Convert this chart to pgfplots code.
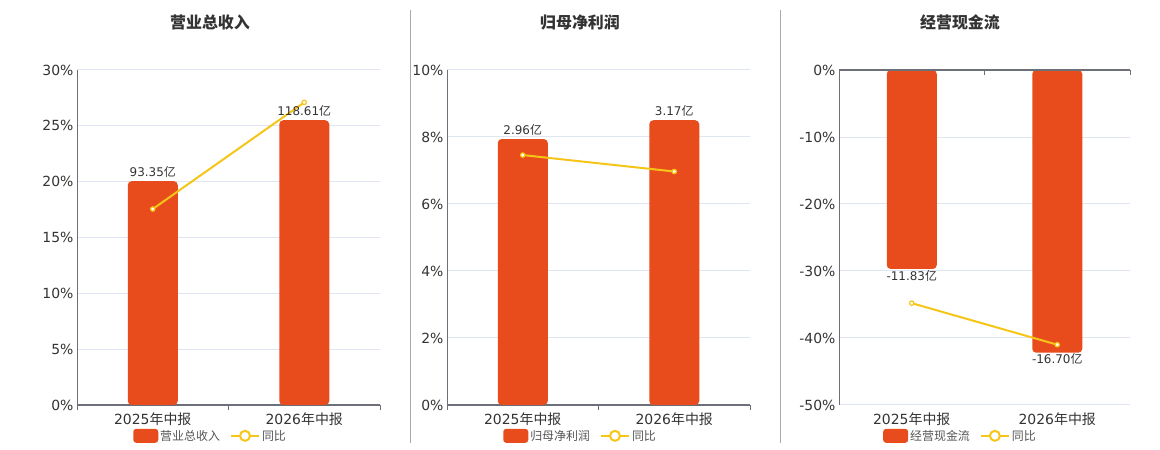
\documentclass[border=0pt]{standalone}
\usepackage{fontspec}
\setmainfont{DejaVu Sans}
\newfontfamily\cjk{Noto Sans CJK SC}
\usepackage{pgfplots}
\pgfplotsset{compat=1.18}
\definecolor{barc}{HTML}{E84C1D}
\definecolor{linec}{HTML}{F5C518}
\definecolor{gridc}{HTML}{E0E6F1}
\definecolor{axisc}{HTML}{6E7079}
\definecolor{txtc}{HTML}{333333}
\definecolor{legc}{HTML}{555555}
\definecolor{sepc}{HTML}{AAAAAA}
\pgfplotsset{
  panel/.style={
    scale only axis, width=303bp, height=335bp, anchor=south west,
    xmin=-0.5, xmax=1.5,
    xtick={0,1},
    xticklabels={2025{\cjk 年中报},2026{\cjk 年中报}},
    ticklabel style={font=\fontsize{14}{16}\selectfont, text=txtc},
    xticklabel style={yshift=-4bp},
    ymajorgrids, grid style={gridc, line width=1bp},
    ytick style={draw=none},
    major x tick style={draw=none},
    clip=false,
    legend style={draw=none, fill=none, inner sep=0pt, anchor=west,
      font=\fontsize{12}{14}\selectfont, text=legc,
      /tikz/every even column/.append style={column sep=8bp}},
    legend columns=2,
    legend cell align=left,
  },
  barlegend/.style={legend image code/.code={\fill[barc, rounded corners=3bp] (0bp,-7bp) rectangle (25bp,7bp);}},
  linelegend/.style={legend image code/.code={\draw[linec, line width=2bp] (0bp,0bp)--(28bp,0bp); \draw[linec, line width=2bp, fill=white] (14bp,0bp) circle (5bp);}},
  barplot/.style={ybar, bar width=50bp, fill=barc, draw=none, rounded corners=4bp, barlegend,
    point meta=explicit symbolic,
    nodes near coords={\pgfplotspointmeta{\cjk 亿}},
    nodes near coords style={font=\fontsize{12}{14}\selectfont, text=txtc}},
  lineplot/.style={linec, line width=2bp, mark=*, mark size=2.2bp,
    mark options={fill=white, draw=linec, line width=1.2bp}, linelegend},
  bottomaxis/.style={
    axis x line*=bottom, axis y line*=left,
    x axis line style={axisc, line width=1.8bp, -},
    y axis line style={axisc, line width=1bp, -},
    extra x ticks={-0.5,0.5,1.5}, extra x tick labels={},
    extra x tick style={grid=none, major tick length=5bp, tick align=outside,
      major x tick style={draw=axisc, line width=1bp}},
  },
}
\begin{document}
\begin{tikzpicture}
\path[use as bounding box] (0bp,0bp) rectangle (1160bp,450bp);
\draw[sepc, line width=1bp] (410bp,7bp) -- (410bp,440bp);
\draw[sepc, line width=1bp] (780bp,7bp) -- (780bp,440bp);
\node[font=\cjk\bfseries\fontsize{16}{18}\selectfont, text=txtc] at (210bp,428bp) {营业总收入};
\node[font=\cjk\bfseries\fontsize{16}{18}\selectfont, text=txtc] at (580bp,428bp) {归母净利润};
\node[font=\cjk\bfseries\fontsize{16}{18}\selectfont, text=txtc] at (960bp,428bp) {经营现金流};

% Panel 1
\begin{axis}[panel, bottomaxis, at={(77bp,45bp)},
  ymin=0, ymax=30, ytick={0,5,10,15,20,25,30},
  yticklabels={0\%,5\%,10\%,15\%,20\%,25\%,30\%},
  legend style={at={(0.185,-0.092)}}]
\addplot[barplot] coordinates {(0,20.05)[93.35] (1,25.5)[118.61]};
\addplot[lineplot] coordinates {(0,17.55) (1,27.1)};
\legend{{\cjk 营业总收入},{\cjk 同比}}
\end{axis}

% Panel 2
\begin{axis}[panel, bottomaxis, at={(447bp,45bp)},
  ymin=0, ymax=10, ytick={0,2,4,6,8,10},
  yticklabels={0\%,2\%,4\%,6\%,8\%,10\%},
  legend style={at={(0.185,-0.092)}}]
\addplot[barplot] coordinates {(0,7.94)[2.96] (1,8.5)[3.17]};
\addplot[lineplot] coordinates {(0,7.46) (1,6.97)};
\legend{{\cjk 归母净利润},{\cjk 同比}}
\end{axis}

% Panel 3
\begin{axis}[panel, at={(839bp,45bp)}, width=291bp,
  axis x line*=bottom, axis y line*=left,
  x axis line style={draw=none},
  y axis line style={axisc, line width=1bp, -},
  ymin=-50, ymax=0, ytick={-50,-40,-30,-20,-10,0},
  yticklabels={-50\%,-40\%,-30\%,-20\%,-10\%,0\%},
  legend style={at={(0.151,-0.092)}}]
\addplot[barplot, nodes near coords style={anchor=north, inner sep=1bp}] coordinates {(0,-29.7)[-11.83] (1,-42.2)[-16.70]};
\addplot[lineplot] coordinates {(0,-34.8) (1,-41.0)};
\legend{{\cjk 经营现金流},{\cjk 同比}}
\end{axis}
\begin{axis}[scale only axis, width=291bp, height=335bp, anchor=south west, at={(839bp,45bp)},
  xmin=-0.5, xmax=1.5, ymin=-50, ymax=0,
  axis x line*=top, axis y line=none,
  x axis line style={axisc, line width=1.8bp, -},
  xtick={-0.5,0.5,1.5}, xticklabels={},
  tick align=inside, major tick length=5bp,
  major x tick style={draw=axisc, line width=1bp}]
\end{axis}
\end{tikzpicture}
\end{document}
